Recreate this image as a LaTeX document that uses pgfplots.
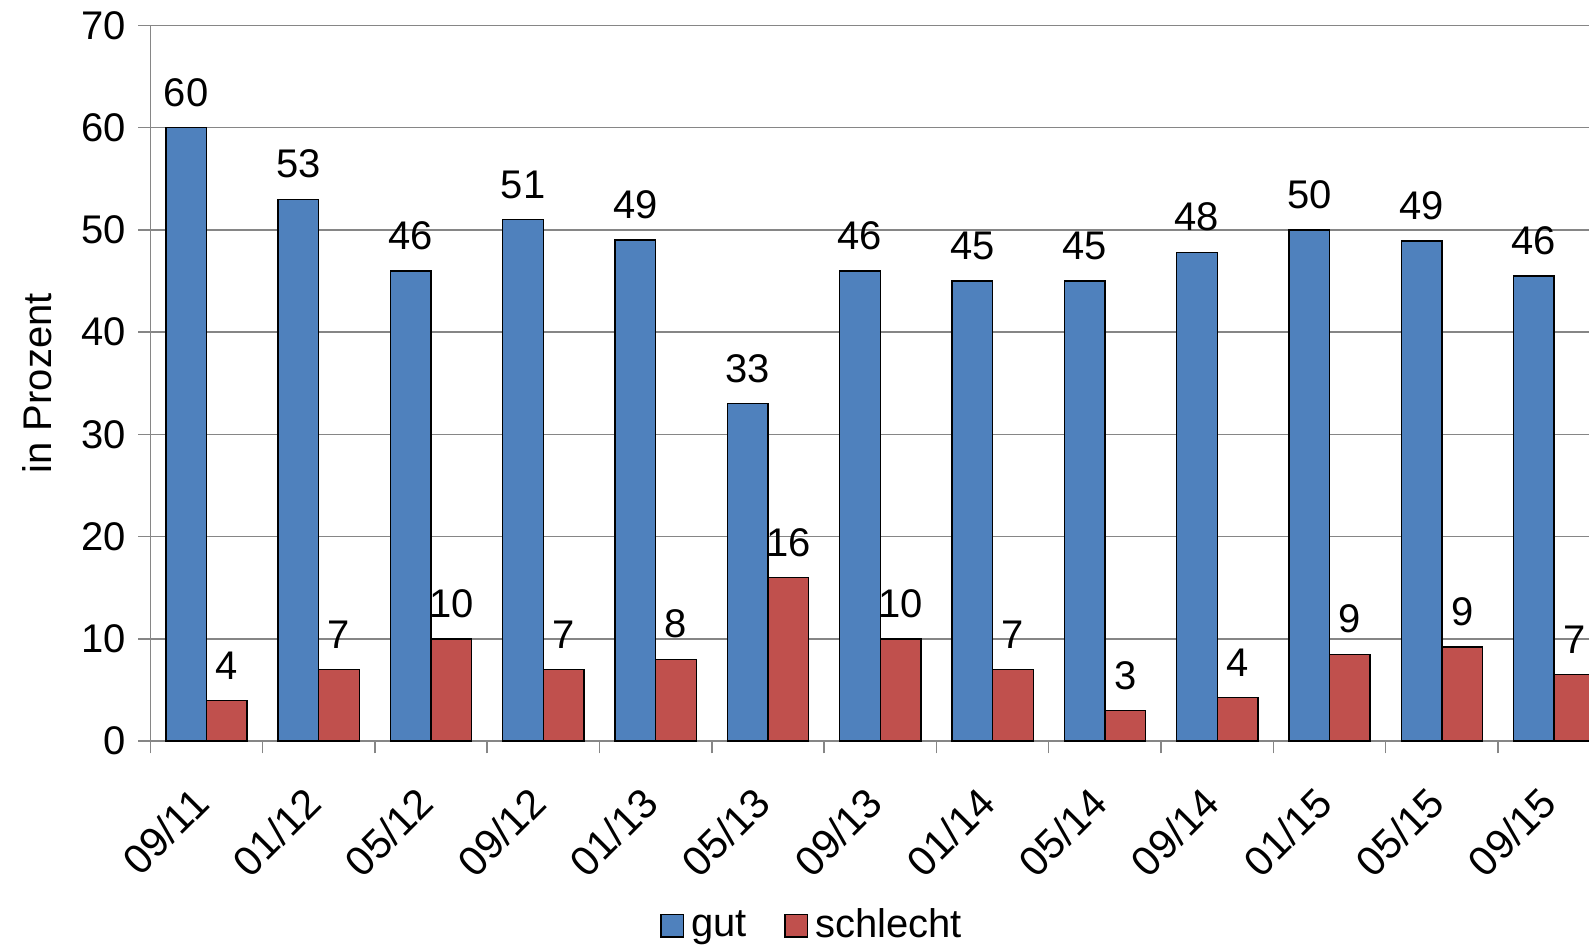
\documentclass[border=0pt]{standalone}
\usepackage{fontspec}
\setmainfont{Liberation Sans}
\usepackage{pgfplots}
\pgfplotsset{compat=1.18}
\definecolor{gutblue}{RGB}{79,129,189}
\definecolor{schlechtred}{RGB}{192,80,77}
\definecolor{gridgray}{RGB}{134,134,134}
\newcommand{\chartfont}{\fontsize{11.2}{13}\selectfont}
\begin{document}
\begin{tikzpicture}
\begin{axis}[
    scale only axis,
    width=143.8mm, height=70.5mm,
    ybar=0pt, bar width=4mm,
    xmin=-0.5, xmax=12.5,
    ymin=0, ymax=70,
    ytick={0,10,...,70},
    xtick={0,...,12},
    xticklabels={09/11,01/12,05/12,09/12,01/13,05/13,09/13,01/14,05/14,09/14,01/15,05/15,09/15},
    minor xtick={-0.5,0.5,...,12.5},
    major x tick style={draw=none},
    tick align=outside,
    major tick length=1.2mm, minor tick length=1.2mm,
    tick style={gridgray, thin},
    axis x line*=bottom, axis y line*=left,
    axis line style={gridgray, thin},
    ymajorgrids, grid style={gridgray, thin},
    /pgf/number format/assume math mode=true,
    tick label style={font=\chartfont},
    xticklabel style={xshift=-1.6mm, yshift=-2.5mm, rotate=45, anchor=north east, inner sep=1pt, font=\fontsize{11.6}{13}\selectfont},
    ylabel={in Prozent},
    every axis y label/.style={at={(axis description cs:-0.0772,0.5)}, rotate=90, anchor=center, font=\chartfont},
    point meta=explicit symbolic,
    nodes near coords,
    nodes near coords style={font=\chartfont, anchor=south, inner sep=0pt, yshift=2mm, black},
    legend columns=2,
    legend style={draw=none, at={(axis description cs:0.455,-0.258)}, anchor=center, font=\chartfont,
        /tikz/every even column/.append style={column sep=3mm}},
    legend image code/.code={\draw[#1, draw=black] (0mm,-1.1mm) rectangle (2.2mm,1.1mm);},
]
\addplot[fill=gutblue, draw=black] coordinates {
    (0,60) [60] (1,53) [53] (2,46) [46] (3,51) [51] (4,49) [49] (5,33) [33] (6,46) [46]
    (7,45) [45] (8,45) [45] (9,47.8) [48] (10,50) [50] (11,48.9) [49] (12,45.5) [46]
};
\addlegendentry{gut}
\addplot[fill=schlechtred, draw=black] coordinates {
    (0,4) [4] (1,7) [7] (2,10) [10] (3,7) [7] (4,8) [8] (5,16) [16] (6,10) [10]
    (7,7) [7] (8,3) [3] (9,4.3) [4] (10,8.5) [9] (11,9.2) [9] (12,6.5) [7]
};
\addlegendentry{schlecht}
\end{axis}
\pgfresetboundingbox
\path[use as bounding box] (-14.8mm,-20.3mm) rectangle (141.7mm,73mm);
\end{tikzpicture}
\end{document}
